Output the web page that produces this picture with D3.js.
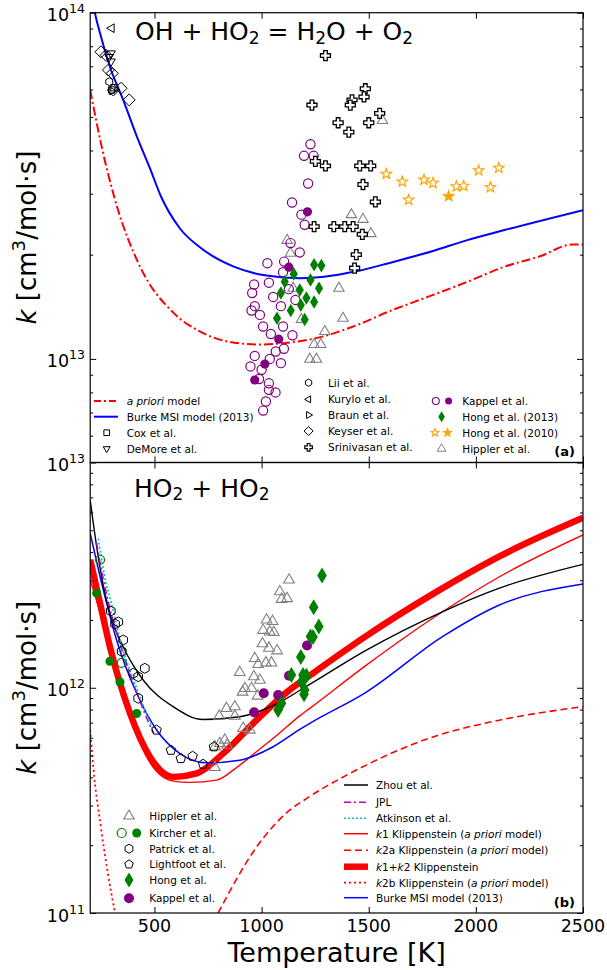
<!DOCTYPE html>
<html>
<head>
<meta charset="utf-8">
<script src="https://cdn.jsdelivr.net/npm/d3@7"></script>
<style>
  body { margin: 0; background: #fff; }
  svg { font-family: "DejaVu Sans", sans-serif; }
  text { white-space: pre; }
</style>
</head>
<body>
<div id="chart"></div>
<script>
// ---------- data (T in K, k in cm3/mol/s) ----------
const tempTicks = [500, 1000, 1500, 2000, 2500];

// panel (a): OH + HO2
const aprioriOh = [[200,5.98e13],[250,4.2e13],[316,2.88e13],[432,1.85e13],[588,1.36e13],[712,1.2e13],[850,1.12e13],[992,1.10e13],[1100,1.11e13],[1260,1.15e13],[1442,1.25e13],[1593,1.37e13],[1775,1.51e13],[1950,1.66e13],[2138,1.85e13],[2300,1.98e13],[2450,2.14e13],[2500,2.14e13]];
const burkeOh = [[200,1.2e14],[222,1.0e14],[246,8.72e13],[292,6.98e13],[354,5.6e13],[417,4.4e13],[479,3.55e13],[530,2.95e13],[619,2.38e13],[712,2.1e13],[867,1.85e13],[1023,1.74e13],[1178,1.71e13],[1333,1.74e13],[1442,1.79e13],[1593,1.89e13],[1800,2.05e13],[1956,2.2e13],[2138,2.36e13],[2500,2.69e13]];
const coxOh = [[300,5.98e13],[311,6.07e13]];
const demoreOh = [[297,7.63e13],[297,7.23e13],[288,7.45e13]];
const liiOh = [[289,6.32e13]];
const kuryloOh = [[300,9.02e13]];
const braunOh = [[302,5.94e13]];
const keyserOh = [[250,7.71e13],[274,7.53e13],[285,6.83e13],[303,6.68e13],[308,5.98e13],[344,6.05e13],[382,5.6e13]];
const srinivasanOh = [[1298,7.52e13],[1235,5.41e13],[1484,6.03e13],[1478,5.71e13],[1422,5.60e13],[1414,5.41e13],[1551,5.12e13],[1357,4.81e13],[1500,4.81e13],[1407,4.52e13],[1251,3.72e13],[1298,3.61e13],[1458,3.61e13],[1509,3.61e13],[1473,3.19e13],[1531,2.84e13],[1245,2.41e13],[1337,2.41e13],[1388,2.41e13],[1427,2.41e13],[1470,2.29e13],[1442,2.0e13],[1434,1.83e13]];
const kappelOpenOh = [[1228,4.17e13],[1198,3.86e13],[1243,3.86e13],[1217,3.21e13],[1142,2.83e13],[1186,2.61e13],[1201,2.44e13],[1135,2.16e13],[1178,2.03e13],[1027,1.89e13],[1105,1.91e13],[1100,1.78e13],[1034,1.66e13],[965,1.64e13],[956,1.55e13],[1127,1.59e13],[1054,1.51e13],[1158,1.48e13],[968,1.42e13],[953,1.38e13],[992,1.34e13],[1090,1.42e13],[1007,1.24e13],[1043,1.18e13],[1100,1.24e13],[1144,1.17e13],[1104,1.07e13],[1066,1.05e13],[1038,1.0e13],[968,1.02e13],[1090,9.72e12],[948,9.51e12],[1000,9.3e12],[988,8.75e12],[1034,8.5e12],[1034,8.14e12],[1065,8.0e12],[1020,7.53e12],[1007,7.09e12]];
const kappelFilledOh = [[1214,2.66e13],[1127,1.84e13],[1080,1.14e13],[1015,9.66e12],[968,8.69e12]];
const hong2013Oh = [[1245,1.87e13],[1279,1.86e13],[1150,1.76e13],[1228,1.69e13],[1108,1.67e13],[1268,1.60e13],[1090,1.55e13],[1178,1.58e13],[1209,1.50e13],[1183,1.43e13],[1245,1.46e13],[1136,1.38e13],[1072,1.31e13],[1201,1.30e13]];
const hong2010Open = [[1582,3.42e13],[1657,3.25e13],[1686,2.88e13],[1758,3.29e13],[1800,3.22e13],[1909,3.15e13],[1943,3.16e13],[2013,3.50e13],[2068,3.13e13],[2107,3.56e13]];
const hong2010Filled = [[1873,2.95e13]];
const hipplerOh = [[1119,2.20e13],[1135,2.02e13],[1147,1.60e13],[1186,1.30e13],[1225,9.98e12],[1245,1.10e13],[1256,9.98e12],[1276,1.10e13],[1295,1.20e13],[1361,1.60e13],[1380,1.31e13],[1419,2.61e13],[1473,2.53e13],[1510,2.30e13],[1564,4.88e13]];

// panel (b): HO2 + HO2
const zhouHo2 = [[200,6.8e12],[230,4.24e12],[261,2.85e12],[292,2.14e12],[354,1.52e12],[448,1.08e12],[587,8.24e11],[727,7.23e11],[898,7.43e11],[1069,8.47e11],[1220,1.03e12],[1489,1.47e12],[1846,2.18e12],[2110,2.77e12],[2500,3.53e12]];
const jplHo2 = [[230,4.4e12],[246,3.6e12],[300,2.1e12],[350,1.45e12],[400,1.05e12],[450,7.9e11],[494,6.3e11]];
const atkinsonHo2 = [[238,4.6e12],[274,2.91e12],[300,2.35e12],[350,1.5e12],[400,1.1e12],[450,8.2e11],[494,6.5e11]];
const k1Klipp = [[200,3.0e12],[246,2.15e12],[292,1.4e12],[386,7.4e11],[479,4.65e11],[587,3.85e11],[665,3.8e11],[790,3.89e11],[880,4.4e11],[976,5.2e11],[1080,6.25e11],[1178,7.5e11],[1225,8.1e11],[1489,1.26e12],[1846,2.18e12],[2110,3.11e12],[2500,4.77e12]];
const k2aKlipp = [[797,1.0e11],[976,1.96e11],[1131,2.86e11],[1209,3.22e11],[1442,4.31e11],[1800,6.05e11],[2110,7.18e11],[2500,8.24e11]];
const k12Klipp = [[200,3.7e12],[246,2.37e12],[292,1.52e12],[386,7.69e11],[479,4.93e11],[587,4.02e11],[697,4.17e11],[820,5.1e11],[976,7.18e11],[1131,9.78e11],[1217,1.12e12],[1489,1.70e12],[1800,2.61e12],[2110,3.83e12],[2500,5.68e12]];
const k2bKlipp = [[200,6.5e11],[207,5.4e11],[214,4.5e11],[250,2.4e11],[280,1.55e11],[316,1.0e11]];
const burkeHo2 = [[200,4.86e12],[261,2.72e12],[323,1.63e12],[417,9.45e11],[510,6.49e11],[619,5.1e11],[743,4.64e11],[898,4.77e11],[1054,5.47e11],[1178,6.53e11],[1225,6.95e11],[1489,9.57e11],[1846,1.69e12],[2110,2.33e12],[2500,2.89e12]];
const hipplerHo2 = [[1128,3.01e12],[1085,2.67e12],[1093,2.47e12],[1119,2.49e12],[1023,2.0e12],[1051,1.97e12],[1007,1.80e12],[1038,1.77e12],[1057,1.76e12],[1004,1.57e12],[1034,1.50e12],[1072,1.46e12],[968,1.35e12],[984,1.27e12],[1020,1.29e12],[1046,1.29e12],[898,1.17e12],[964,1.12e12],[992,1.08e12],[922,9.93e11],[953,9.93e11],[981,9.19e11],[911,9.57e11],[836,8.1e11],[875,8.24e11],[802,7.48e11],[875,7.48e11],[914,6.61e11],[945,6.49e11],[828,5.86e11],[805,5.66e11],[782,5.47e11],[839,5.56e11],[782,4.43e11]];
const kircherOpen = [[246,3.7e12],[347,1.29e12]];
const kircherFilled = [[230,2.63e12],[292,1.31e12],[339,1.06e12],[417,7.69e11]];
const patrickHo2 = [[296,2.19e12],[331,1.96e12],[316,1.92e12],[354,1.63e12],[347,1.45e12],[401,1.16e12],[424,1.12e12],[455,1.22e12],[424,8.98e11]];
const lightfootHo2 = [[510,6.49e11],[577,5.28e11],[623,4.85e11],[678,4.97e11],[727,4.58e11],[777,5.47e11]];
const hongHo2 = [[1282,3.15e12],[1243,2.28e12],[1267,1.87e12],[1228,1.69e12],[1240,1.68e12],[1183,1.37e12],[1139,1.14e12],[1193,1.14e12],[1209,1.13e12],[1186,1.06e12],[1201,9.77e11],[1198,9.35e11],[1093,8.53e11],[1077,7.96e11]];
const kappelHo2 = [[965,7.78e11],[1010,9.45e11],[1077,9.29e11],[1128,1.13e12],[1212,1.54e12]];

// ---------- helpers ----------
// marker outlines centred on 0,0 with "radius" r
function markerPath(shape, r) {
  const poly = (n, rot, sx = 1) => {
    const pts = d3.range(n).map(i => {
      const a = rot + i * 2 * Math.PI / n;
      return [sx * r * Math.cos(a), r * Math.sin(a)];
    });
    return 'M' + pts.join('L') + 'Z';
  };
  switch (shape) {
    case 'circle': return d3.symbol(d3.symbolCircle, Math.PI * r * r)();
    case 'triUp': return poly(3, -Math.PI / 2);
    case 'triDown': return poly(3, Math.PI / 2);
    case 'triLeft': return poly(3, Math.PI);
    case 'triRight': return poly(3, 0);
    case 'square': return poly(4, Math.PI / 4);
    case 'diamond': return poly(4, 0);
    case 'thinDiamond': return poly(4, 0, 0.6);
    case 'hexagon': return poly(6, -Math.PI / 2);
    case 'pentagon': return poly(5, -Math.PI / 2);
    case 'star': {
      const pts = d3.range(10).map(i => {
        const a = -Math.PI / 2 + i * Math.PI / 5, rr = i % 2 ? r * 0.42 : r;
        return [rr * Math.cos(a), rr * Math.sin(a)];
      });
      return 'M' + pts.join('L') + 'Z';
    }
    case 'plus': {
      const w = r * 0.36;
      const pts = [[-w,-r],[w,-r],[w,-w],[r,-w],[r,w],[w,w],[w,r],[-w,r],[-w,w],[-r,w],[-r,-w],[-w,-w]];
      return 'M' + pts.join('L') + 'Z';
    }
  }
}

// text made of plain / italic / sub / sup pieces
function richText(sel, parts, size) {
  let shift = 0;
  parts.forEach(([str, style]) => {
    const t = sel.append('tspan').text(str);
    let target = 0;
    if (style === 'sub') { target = size * 0.15; t.attr('font-size', size * 0.68); }
    if (style === 'sup') { target = -size * 0.42; t.attr('font-size', size * 0.7); }
    if (style === 'i') t.attr('font-style', 'italic');
    if (target !== shift) { t.attr('dy', target - shift); shift = target; }
  });
}

function minorTicks(domain) {
  const out = [];
  for (let e = Math.floor(Math.log10(domain[0])); e <= Math.ceil(Math.log10(domain[1])); e++)
    for (let m = 2; m <= 9; m++) {
      const v = m * Math.pow(10, e);
      if (v >= domain[0] * 1.0001 && v <= domain[1] * 0.9999) out.push(v);
    }
  return out;
}

// ---------- figure ----------
const svg = d3.select('#chart').append('svg')
    .attr('width', 607)
    .attr('height', 970);

const xScale = d3.scaleLinear().domain([200, 2500]).range([90.2, 583]);

class LogPanel {
  constructor(_config) {
    this.config = {
      id: _config.id,
      top: _config.top,
      bottom: _config.bottom,
      yDomain: _config.yDomain,
      majorTicks: _config.majorTicks,
      tickLabels: _config.tickLabels,
      xLabels: _config.xLabels || false
    };
    this.initVis();
  }

  initVis() {
    let vis = this;
    const c = vis.config;
    vis.x = xScale;
    vis.y = d3.scaleLog().domain(c.yDomain).range([c.bottom, c.top]);
    vis.g = svg.append('g');

    svg.append('clipPath').attr('id', 'clip-' + c.id)
      .append('rect')
        .attr('x', vis.x.range()[0]).attr('y', c.top)
        .attr('width', vis.x.range()[1] - vis.x.range()[0])
        .attr('height', c.bottom - c.top);

    vis.lines = vis.g.append('g').attr('clip-path', `url(#clip-${c.id})`);
    vis.points = vis.g.append('g').attr('clip-path', `url(#clip-${c.id})`);
    vis.axes = vis.g.append('g');

    const minors = minorTicks(c.yDomain);
    const addAxis = (axis, tx, ty) => {
      const a = vis.axes.append('g').attr('transform', `translate(${tx},${ty})`).call(axis);
      a.select('.domain').remove();
      a.selectAll('line').attr('stroke', '#000').attr('stroke-width', 1);
    };
    const [x0, x1] = vis.x.range();
    addAxis(d3.axisLeft(vis.y).tickValues(c.majorTicks).tickSize(-6).tickFormat(''), x0, 0);
    addAxis(d3.axisLeft(vis.y).tickValues(minors).tickSize(-3).tickFormat(''), x0, 0);
    addAxis(d3.axisRight(vis.y).tickValues(c.majorTicks).tickSize(-6).tickFormat(''), x1, 0);
    addAxis(d3.axisRight(vis.y).tickValues(minors).tickSize(-3).tickFormat(''), x1, 0);
    addAxis(d3.axisBottom(vis.x).tickValues(tempTicks).tickSize(-6).tickFormat(''), 0, c.bottom);
    addAxis(d3.axisTop(vis.x).tickValues(tempTicks).tickSize(-6).tickFormat(''), 0, c.top);

    vis.axes.append('rect')
        .attr('x', x0).attr('y', c.top)
        .attr('width', x1 - x0).attr('height', c.bottom - c.top)
        .attr('fill', 'none').attr('stroke', '#000').attr('stroke-width', 1.2);

    // y tick labels 10^n
    c.majorTicks.forEach((v, i) => {
      const t = vis.axes.append('text')
          .attr('x', 85).attr('y', vis.y(v) + 8.5)
          .attr('text-anchor', 'end').attr('font-size', 17.5);
      t.append('tspan').text('10');
      t.append('tspan').attr('font-size', 12.5).attr('dy', -8).text(c.tickLabels[i]);
    });

    if (c.xLabels) {
      tempTicks.forEach(v => {
        vis.axes.append('text')
            .attr('x', vis.x(v)).attr('y', c.bottom + 19)
            .attr('text-anchor', 'middle').attr('font-size', 17.5)
            .text(v);
      });
    }

    // y axis title
    const yt = vis.axes.append('text')
        .attr('transform', `translate(36,${(c.top + c.bottom) / 2}) rotate(-90)`)
        .attr('text-anchor', 'middle').attr('font-size', 26);
    richText(yt, [['k', 'i'], [' [cm'], ['3', 'sup'], ['/mol·s]']], 26);
  }

  addLine(data, color, width, dash) {
    let vis = this;
    const line = d3.line()
        .x(d => vis.x(d[0]))
        .y(d => vis.y(d[1]))
        .curve(d3.curveMonotoneX);
    vis.lines.append('path')
        .datum(data)
        .attr('d', line)
        .attr('fill', 'none')
        .attr('stroke', color)
        .attr('stroke-width', width)
        .attr('stroke-dasharray', dash || null);
  }

  addPoints(data, shape, r, fill, stroke, sw) {
    let vis = this;
    vis.points.append('g').selectAll('path')
        .data(data)
        .join('path')
        .attr('transform', d => `translate(${vis.x(d[0])},${vis.y(d[1])})`)
        .attr('d', markerPath(shape, r))
        .attr('fill', fill)
        .attr('stroke', stroke || 'none')
        .attr('stroke-width', sw || 1);
  }
}

const purple = '#800080', green = '#008000', orange = '#ffa500', grey = '#808080';
const dashDot = '9,3,2,3';

// ---------- panel (a) ----------
const panelA = new LogPanel({
  id: 'a', top: 12.7, bottom: 462.5,
  yDomain: [5.02e12, 1e14], majorTicks: [1e13, 1e14], tickLabels: ['13', '14']
});
panelA.addLine(aprioriOh, '#ff0000', 2, dashDot);
panelA.addLine(burkeOh, '#0000ff', 2);
panelA.addPoints(keyserOh, 'diamond', 6, 'none', '#000', 1);
panelA.addPoints(demoreOh, 'triDown', 5, 'none', '#000', 1);
panelA.addPoints(coxOh, 'square', 4.5, 'none', '#000', 1);
panelA.addPoints(liiOh, 'hexagon', 4, 'none', '#000', 1);
panelA.addPoints(kuryloOh, 'triLeft', 5, 'none', '#000', 1);
panelA.addPoints(braunOh, 'triRight', 4.5, 'none', '#000', 1);
panelA.addPoints(hipplerOh, 'triUp', 6, 'none', grey, 1.1);
panelA.addPoints(kappelOpenOh, 'circle', 4.6, 'none', purple, 1.2);
panelA.addPoints(kappelFilledOh, 'circle', 4.6, purple);
panelA.addPoints(hong2013Oh, 'thinDiamond', 6.8, green);
panelA.addPoints(srinivasanOh, 'plus', 5, '#fff', '#000', 1.3);
panelA.addPoints(hong2010Open, 'star', 5.5, '#fff', orange, 1.2);
panelA.addPoints(hong2010Filled, 'star', 5.5, orange, orange, 1.2);

// ---------- panel (b) ----------
const panelB = new LogPanel({
  id: 'b', top: 462.5, bottom: 913,
  yDomain: [1e11, 1e13], majorTicks: [1e11, 1e12, 1e13], tickLabels: ['11', '12', '13'],
  xLabels: true
});
panelB.addLine(k2bKlipp, '#ff0000', 1.8, '2,3');
panelB.addLine(k2aKlipp, '#ff0000', 1.6, '7,4');
panelB.addLine(k12Klipp, '#ff0000', 6.5);
panelB.addLine(k1Klipp, '#ff0000', 1.4);
panelB.addLine(burkeHo2, '#0000ff', 1.5);
panelB.addLine(zhouHo2, '#000', 1.4);
panelB.addLine(jplHo2, '#bf00bf', 1.5, '7,3,2,3');
panelB.addLine(atkinsonHo2, '#00bfbf', 1.6, '2,2');
panelB.addPoints(hipplerHo2, 'triUp', 6.2, 'none', grey, 1.1);
panelB.addPoints(patrickHo2, 'hexagon', 5, 'none', '#000', 1);
panelB.addPoints(lightfootHo2, 'pentagon', 5, 'none', '#000', 1);
panelB.addPoints(kircherOpen, 'circle', 4.5, 'none', green, 1.2);
panelB.addPoints(kircherFilled, 'circle', 4.5, green);
panelB.addPoints(kappelHo2, 'circle', 5, purple);
panelB.addPoints(hongHo2, 'thinDiamond', 8, green);

// ---------- titles and panel tags ----------
const title = (x, y, parts) => richText(svg.append('text').attr('x', x).attr('y', y).attr('font-size', 25), parts, 25);
title(135, 40, [['OH + HO'], ['2', 'sub'], [' = H'], ['2', 'sub'], ['O + O'], ['2', 'sub']]);
title(134, 496.5, [['HO'], ['2', 'sub'], [' + HO'], ['2', 'sub']]);

svg.append('text').attr('x', 575).attr('y', 456).attr('text-anchor', 'end')
    .attr('font-size', 13).attr('font-weight', 'bold').text('(a)');
svg.append('text').attr('x', 575).attr('y', 907).attr('text-anchor', 'end')
    .attr('font-size', 13).attr('font-weight', 'bold').text('(b)');

svg.append('text').attr('x', 336.6).attr('y', 962)
    .attr('text-anchor', 'middle').attr('font-size', 27).text('Temperature [K]');

// ---------- legends ----------
const legend = svg.append('g').attr('font-size', 10.5);
function legendLine(x, y, color, width, dash) {
  legend.append('line')
      .attr('x1', x).attr('x2', x + 24).attr('y1', y).attr('y2', y)
      .attr('stroke', color).attr('stroke-width', width)
      .attr('stroke-dasharray', dash || null);
}
function legendMarker(x, y, shape, r, fill, stroke, sw) {
  legend.append('path')
      .attr('transform', `translate(${x},${y})`)
      .attr('d', markerPath(shape, r))
      .attr('fill', fill).attr('stroke', stroke || 'none').attr('stroke-width', sw || 1);
}
function legendText(x, y, parts) {
  richText(legend.append('text').attr('x', x).attr('y', y + 3.8), parts, 10.5);
}

// panel (a) legend
legendLine(94, 401, '#ff0000', 2, '7,3,2,3');
legendText(126.7, 401, [['a priori', 'i'], [' model']]);
legendLine(94, 416.7, '#0000ff', 2);
legendText(126.7, 416.7, [['Burke MSI model (2013)']]);
legendMarker(106.7, 432.7, 'square', 4, 'none', '#000');
legendText(126.7, 432.7, [['Cox et al.']]);
legendMarker(106.7, 448.7, 'triDown', 4, 'none', '#000');
legendText(126.7, 448.7, [['DeMore et al.']]);

legendMarker(308.6, 382.7, 'hexagon', 3.6, 'none', '#000');
legendText(328, 382.7, [['Lii et al.']]);
legendMarker(308.6, 399.3, 'triLeft', 4, 'none', '#000');
legendText(328, 399.3, [['Kurylo et al.']]);
legendMarker(308.6, 415, 'triRight', 4, 'none', '#000');
legendText(328, 415, [['Braun et al.']]);
legendMarker(308.6, 431, 'diamond', 4.5, 'none', '#000');
legendText(328, 431, [['Keyser et al.']]);
legendMarker(308.6, 447.3, 'plus', 3.8, '#fff', '#000', 1.2);
legendText(328, 447.3, [['Srinivasan et al.']]);

legendMarker(435.8, 401, 'circle', 3.5, 'none', purple, 1.1);
legendMarker(448.6, 401, 'circle', 3.5, purple);
legendText(462.3, 401, [['Kappel et al.']]);
legendMarker(441.6, 416.7, 'thinDiamond', 5.5, green);
legendText(462.3, 416.7, [['Hong et al. (2013)']]);
legendMarker(435, 432.7, 'star', 4.2, '#fff', orange, 1.1);
legendMarker(447.5, 432.7, 'star', 4.2, orange, orange, 1.1);
legendText(462.3, 432.7, [['Hong et al. (2010)']]);
legendMarker(441.6, 448.7, 'triUp', 5, 'none', grey, 1);
legendText(462.3, 448.7, [['Hippler et al.']]);

// panel (b) legend, markers
legendMarker(129, 816, 'triUp', 6, 'none', grey, 1.1);
legendText(149.3, 816, [['Hippler et al.']]);
legendMarker(121.7, 833, 'circle', 4.5, 'none', green, 1.2);
legendMarker(136.7, 833, 'circle', 4.5, green);
legendText(149.3, 833, [['Kircher et al.']]);
legendMarker(129, 848.7, 'hexagon', 4.5, 'none', '#000');
legendText(149.3, 848.7, [['Patrick et al.']]);
legendMarker(129, 864.3, 'pentagon', 4.5, 'none', '#000');
legendText(149.3, 864.3, [['Lightfoot et al.']]);
legendMarker(129, 880, 'thinDiamond', 7.5, green);
legendText(149.3, 880, [['Hong et al.']]);
legendMarker(129, 898.3, 'circle', 5, purple);
legendText(149.3, 898.3, [['Kappel et al.']]);

// panel (b) legend, lines
legendLine(344, 785, '#000', 1.5);
legendText(376, 785, [['Zhou et al.']]);
legendLine(344, 802.3, '#bf00bf', 1.5, '7,3,2,3');
legendText(376, 802.3, [['JPL']]);
legendLine(344, 818.3, '#00bfbf', 1.6, '2,2');
legendText(376, 818.3, [['Atkinson et al.']]);
legendLine(344, 833.7, '#ff0000', 1.5);
legendText(376, 833.7, [['k', 'i'], ['1 Klippenstein ('], ['a priori', 'i'], [' model)']]);
legendLine(344, 850.3, '#ff0000', 1.6, '7,4');
legendText(376, 850.3, [['k', 'i'], ['2a Klippenstein ('], ['a priori', 'i'], [' model)']]);
legendLine(344, 866.7, '#ff0000', 6.5);
legendText(376, 866.7, [['k', 'i'], ['1+'], ['k', 'i'], ['2 Klippenstein']]);
legendLine(344, 882.7, '#ff0000', 1.8, '2,3');
legendText(376, 882.7, [['k', 'i'], ['2b Klippenstein ('], ['a priori', 'i'], [' model)']]);
legendLine(344, 897.7, '#0000ff', 1.5);
legendText(376, 897.7, [['Burke MSI model (2013)']]);
</script>
</body>
</html>
